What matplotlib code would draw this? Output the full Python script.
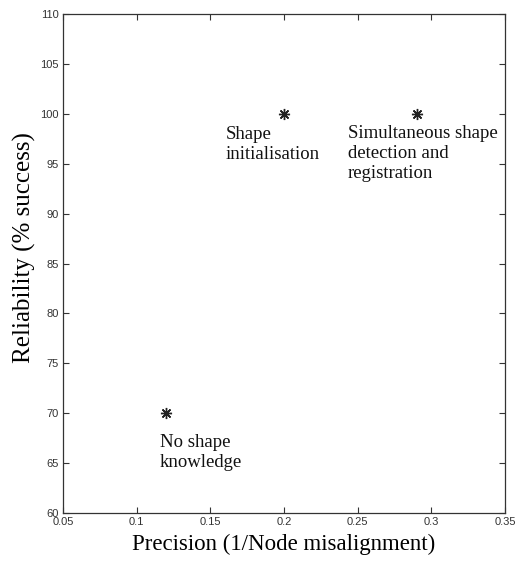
import matplotlib
matplotlib.use("Agg")
import matplotlib.pyplot as plt

precision = [0.12, 0.20, 0.29]
reliability = [70, 100, 100]
labels = ["No shape\nknowledge", "Shape\ninitialisation", "Simultaneous shape\ndetection and\nregistration"]
label_pos = [(0.1158, 67.9), (0.1606, 98.8), (0.2434, 98.9)]
xticks = [0.05, 0.1, 0.15, 0.2, 0.25, 0.3, 0.35]
xticklabels = ["0.05", "0.1", "0.15", "0.2", "0.25", "0.3", "0.35"]
yticks = [60, 65, 70, 75, 80, 85, 90, 95, 100, 105, 110]

serif = ["Liberation Serif", "DejaVu Serif"]
fig = plt.figure(figsize=(5.16, 5.61), dpi=100)
ax = fig.add_axes([0.122, 0.0856, 0.857, 0.889])
ax.plot(precision, reliability, linestyle="none", marker=(8, 2, 0), markersize=8,
        color="#222222", markeredgewidth=1.0)
for (tx, ty), lab in zip(label_pos, labels):
    ax.text(tx, ty, lab, ha="left", va="top", fontsize=13.5,
            family=serif, linespacing=1.22, color="#111111")
ax.set_xlim(0.05, 0.35)
ax.set_ylim(60, 110)
ax.set_xticks(xticks)
ax.set_xticklabels(xticklabels)
ax.set_yticks(yticks)
tickfont = ["Liberation Sans Narrow", "Liberation Sans", "DejaVu Sans"]
for lab in ax.get_xticklabels() + ax.get_yticklabels():
    lab.set_family(tickfont)
    lab.set_fontsize(8)
    lab.set_color("#333333")
ax.tick_params(direction="in", top=True, right=True, length=4, width=0.8, pad=3, colors="#333333")
for s in ax.spines.values():
    s.set_linewidth(0.9)
    s.set_color("#333333")
ax.set_xlabel("Precision (1/Node misalignment)", fontsize=16.5, family=serif, labelpad=5)
ax.set_ylabel("Reliability (% success)", fontsize=18, family=serif)
ax.yaxis.set_label_coords(-0.062, 0.533)
fig.savefig("out.png", dpi=100)
